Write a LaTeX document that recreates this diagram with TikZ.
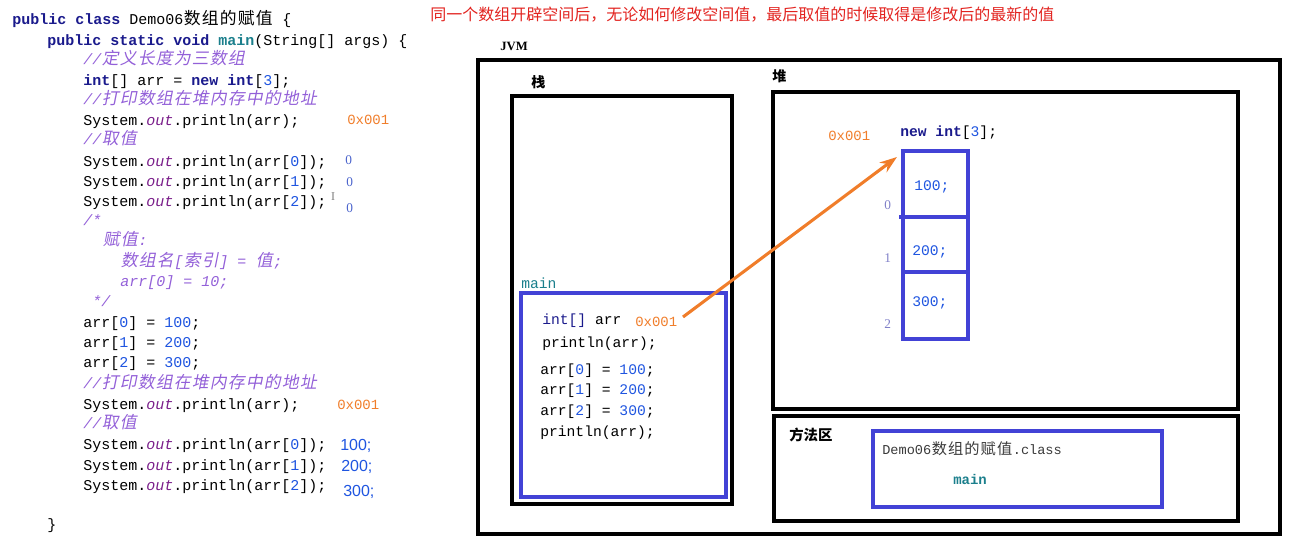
\documentclass[tikz,border=0pt]{standalone}
\usepackage{fontspec}
\setmainfont{Liberation Serif}
\setmonofont{Liberation Mono}
\newfontfamily\cjk{Noto Sans CJK SC}
\newfontfamily\cjkc[Scale=1.12]{Noto Sans CJK SC}
\newfontfamily\cjkit[FakeSlant=0.2,Scale=1.12]{Noto Sans CJK SC}
\newfontfamily\sansf{Liberation Sans}
\usetikzlibrary{arrows.meta}
\definecolor{kwc}{HTML}{1A1A8C}
\definecolor{mainc}{HTML}{1B7F8C}
\definecolor{cmtc}{HTML}{9360D8}
\definecolor{outc}{HTML}{7A1E8A}
\definecolor{numc}{HTML}{1F55E0}
\definecolor{orc}{HTML}{F07D2A}
\definecolor{annc}{HTML}{4A63CC}
\definecolor{idxc}{HTML}{8080C8}
\definecolor{redc}{HTML}{E2231F}
\definecolor{bluef}{HTML}{4242D6}
\definecolor{grayt}{HTML}{3A3A3A}
\newcommand\kw[1]{\textcolor{kwc}{\bfseries #1}}
\newcommand\nm[1]{\textcolor{numc}{#1}}
\newcommand\outt{\textcolor{outc}{\itshape out}}
\newcommand\cmt[1]{\textcolor{cmtc}{\itshape #1}}
\makeatletter
\def\cj@loop#1{\ifx\relax#1\else\makebox[1.2em]{\cj@font #1}\expandafter\cj@loop\fi}
\newcommand\cj[1]{{\let\cj@font\cjkc\cj@loop#1\relax}}
\newcommand\cji[1]{{\let\cj@font\cjkit\cj@loop#1\relax}}
\makeatother
\newcommand\codefont{\ttfamily\fontsize{11.25}{13}\selectfont}
\newcommand\boxfont{\ttfamily\fontsize{11}{13}\selectfont}
\tikzset{
  code/.style={anchor=base west, inner sep=0pt, font=\codefont},
  bcode/.style={anchor=base west, inner sep=0pt, font=\boxfont},
  addr/.style={anchor=base west, inner sep=0pt, text=orc, font=\ttfamily\fontsize{10.5}{12}\selectfont},
  zero/.style={anchor=west, inner sep=0pt, text=annc, font=\rmfamily\fontsize{10}{11}\selectfont},
  outv/.style={anchor=base west, inner sep=0pt, text=numc, font=\sansf\fontsize{12}{13}\selectfont},
  idx/.style={anchor=west, inner sep=0pt, text=idxc, font=\rmfamily\fontsize{10}{11}\selectfont},
  lab/.style={anchor=west, inner sep=0pt, font=\cjk\bfseries\fontsize{10.5}{12}\selectfont},
  frame/.style={draw=black, line width=2.8pt},
  bframe/.style={draw=bluef, line width=2.6pt},
  ptr/.style={draw=orc, line width=2.3pt, -{Stealth[length=13pt,width=9pt]}}
}
\begin{document}
\begin{tikzpicture}[x=0.75pt,y=-0.75pt]
\useasboundingbox (0,0) rectangle (1291,541);
% ---------- code listing ----------
\node[code] (c1) at (12,25) {\kw{public class} Demo06\cj{数组的赋值} \{};
\node[code] (c2) at (47,46) {\kw{public static void} \textcolor{mainc}{\bfseries main}(String[] args) \{};
\node[code] (c3) at (83,65) {\cmt{//\cji{定义长度为三数组}}};
\node[code] (c4) at (83,86) {\kw{int}[] arr = \kw{new} \kw{int}[\nm{3}];};
\node[code] (c5) at (83,105) {\cmt{//\cji{打印数组在堆内存中的地址}}};
\node[code] (c6) at (83,126) {System.\outt.println(arr);};
\node[addr] (a6) at (347,125) {0x001};
\node[code] (c7) at (83,145) {\cmt{//\cji{取值}}};
\node[code] (c8) at (83,167) {System.\outt.println(arr[\nm{0}]);};
\node[zero] (a8) at (345,160) {0};
\node[code] (c9) at (83,187) {System.\outt.println(arr[\nm{1}]);};
\node[zero] (a9) at (346,182) {0};
\node[code] (c10) at (83,207) {System.\outt.println(arr[\nm{2}]);};
\node[inner sep=0pt, text=gray, font=\rmfamily\fontsize{9}{10}\selectfont] (cur) at (333,197) {I};
\node[zero] (a10) at (346,208) {0};
\node[code] (c11) at (83,226) {\cmt{/*}};
\node[code] (c12) at (102,246) {\cmt{\cji{赋值}:}};
\node[code] (c13) at (120,267) {\cmt{\cji{数组名}[\cji{索引}] = \cji{值};}};
\node[code] (c14) at (120,287) {\cmt{arr[0] = 10;}};
\node[code] (c15) at (92,307) {\cmt{*/}};
\node[code] (c16) at (83,328) {arr[\nm{0}] = \nm{100};};
\node[code] (c17) at (83,348) {arr[\nm{1}] = \nm{200};};
\node[code] (c18) at (83,368) {arr[\nm{2}] = \nm{300};};
\node[code] (c19) at (83,388) {\cmt{//\cji{打印数组在堆内存中的地址}}};
\node[code] (c20) at (83,409) {System.\outt.println(arr);};
\node[addr] (a20) at (337,409) {0x001};
\node[code] (c21) at (83,428) {\cmt{//\cji{取值}}};
\node[code] (c22) at (83,449) {System.\outt.println(arr[\nm{0}]);};
\node[outv] (a22) at (340,450) {100;};
\node[code] (c23) at (83,470) {System.\outt.println(arr[\nm{1}]);};
\node[outv] (a23) at (341,471) {200;};
\node[code] (c24) at (83,490) {System.\outt.println(arr[\nm{2}]);};
\node[outv] (a24) at (343,496) {300;};
\node[code] (c25) at (47,529) {\}};
% ---------- title ----------
\node[anchor=west, inner sep=0pt, text=redc, font=\cjk\fontsize{12}{14}\selectfont] (title) at (430,15)
  {同一个数组开辟空间后，无论如何修改空间值，最后取值的时候取得是修改后的最新的值};
% ---------- JVM ----------
\node[anchor=west, inner sep=0pt, font=\rmfamily\bfseries\fontsize{9.5}{11}\selectfont] (jvm) at (500,46) {JVM};
\draw[frame] (478,60) rectangle (1280,534);
% stack
\node[lab] (stk) at (531,82) {栈};
\draw[frame] (512,96) rectangle (732,504);
\node[anchor=west, inner sep=0pt, text=mainc, font=\ttfamily\fontsize{11}{12}\selectfont] (mainl) at (521,283) {main};
\draw[bframe] (521,293) rectangle (726,497);
\node[bcode] (s1) at (542,325) {\textcolor{kwc}{int[]} arr};
\node[addr] (saddr) at (635,326) {0x001};
\node[bcode] (s2) at (542,348) {println(arr);};
\node[bcode] (s3) at (540,374) {arr[\nm{0}] = \nm{100};};
\node[bcode] (s4) at (540,394) {arr[\nm{1}] = \nm{200};};
\node[bcode] (s5) at (540,415) {arr[\nm{2}] = \nm{300};};
\node[bcode] (s6) at (540,436) {println(arr);};
% heap
\node[lab] (heap) at (772,76) {堆};
\draw[frame] (773,92) rectangle (1238,409);
\node[addr] (haddr) at (828,141) {0x001};
\node[bcode] (hnew) at (900,137) {\kw{new int}[\nm{3}];};
\draw[bframe] (903,151) rectangle (968,339);
\draw[bframe] (899,217) -- (968,217);
\draw[bframe] (903,272) -- (968,272);
\node[bcode, text=numc] (v0) at (914,191) {100;};
\node[bcode, text=numc] (v1) at (912,256) {200;};
\node[bcode, text=numc] (v2) at (912,307) {300;};
\node[idx] (i0) at (884,205) {0};
\node[idx] (i1) at (884,258) {1};
\node[idx] (i2) at (884,324) {2};
% pointer
\coordinate (pS) at (683,317);
\coordinate (pE) at (897,157);
\draw[ptr] (pS) -- (pE);
% method area
\draw[frame] (774,416) rectangle (1238,521);
\node[lab, font=\cjk\bfseries\fontsize{10.8}{12}\selectfont] (meth) at (789,435) {方法区};
\draw[bframe] (873,431) rectangle (1162,507);
\node[anchor=west, inner sep=0pt, text=grayt, font=\ttfamily\fontsize{10.2}{12}\selectfont] (cls) at (882,449) {Demo06\cj{数组的赋值}.class};
\node[anchor=west, inner sep=0pt, text=mainc, font=\ttfamily\bfseries\fontsize{10.5}{12}\selectfont] (mm) at (953,479) {main};
\end{tikzpicture}
\end{document}
